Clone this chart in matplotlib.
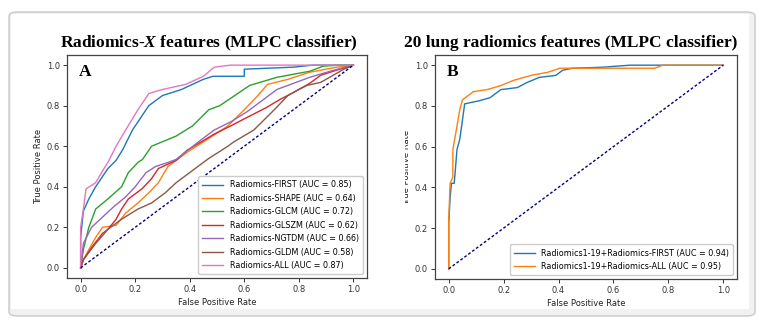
import matplotlib
matplotlib.use("Agg")
import matplotlib.pyplot as plt
from matplotlib.patches import FancyBboxPatch, Rectangle

plt.rcParams['mathtext.fontset'] = 'custom'
plt.rcParams['mathtext.rm'] = 'Liberation Serif:bold'
plt.rcParams['mathtext.it'] = 'Liberation Serif:italic:bold'

# panel A: Radiomics-X features
labels_a = ['Radiomics-FIRST (AUC = 0.85)', 'Radiomics-SHAPE (AUC = 0.64)',
            'Radiomics-GLCM (AUC = 0.72)', 'Radiomics-GLSZM (AUC = 0.62)',
            'Radiomics-NGTDM (AUC = 0.66)', 'Radiomics-GLDM (AUC = 0.58)',
            'Radiomics-ALL (AUC = 0.87)']

fpr_first = [0, 0, 0.01, 0.03, 0.055, 0.10, 0.13, 0.155, 0.19, 0.225, 0.25, 0.30, 0.37, 0.45, 0.485, 0.51, 0.60, 0.60, 0.78, 0.85, 1.0]
tpr_first = [0, 0.15, 0.28, 0.34, 0.40, 0.49, 0.53, 0.585, 0.68, 0.75, 0.80, 0.85, 0.88, 0.93, 0.945, 0.945, 0.945, 0.98, 0.99, 1.0, 1.0]

fpr_shape = [0, 0.01, 0.03, 0.055, 0.08, 0.13, 0.165, 0.21, 0.25, 0.285, 0.32, 0.39, 0.46, 0.54, 0.60, 0.65, 0.685, 0.76, 0.84, 0.94, 1.0]
tpr_shape = [0, 0.04, 0.09, 0.15, 0.20, 0.21, 0.27, 0.32, 0.37, 0.42, 0.50, 0.57, 0.63, 0.70, 0.78, 0.85, 0.905, 0.93, 0.965, 0.99, 1.0]

fpr_glcm = [0, 0.01, 0.03, 0.055, 0.10, 0.15, 0.175, 0.21, 0.227, 0.26, 0.35, 0.41, 0.47, 0.51, 0.62, 0.72, 0.84, 0.89, 0.95, 1.0]
tpr_glcm = [0, 0.09, 0.20, 0.29, 0.34, 0.40, 0.47, 0.52, 0.535, 0.60, 0.65, 0.70, 0.78, 0.80, 0.90, 0.94, 0.97, 0.995, 1.0, 1.0]

fpr_glszm = [0, 0.01, 0.04, 0.08, 0.10, 0.13, 0.15, 0.175, 0.225, 0.26, 0.285, 0.35, 0.39, 0.44, 0.49, 0.55, 0.60, 0.68, 0.73, 0.78, 0.84, 0.88, 0.95, 1.0]
tpr_glszm = [0, 0.04, 0.10, 0.17, 0.19, 0.24, 0.29, 0.34, 0.39, 0.44, 0.49, 0.53, 0.58, 0.62, 0.66, 0.70, 0.735, 0.79, 0.83, 0.865, 0.91, 0.95, 0.98, 1.0]

fpr_ngtdm = [0, 0.01, 0.04, 0.08, 0.12, 0.165, 0.20, 0.24, 0.275, 0.32, 0.35, 0.44, 0.49, 0.55, 0.61, 0.67, 0.72, 0.84, 0.915, 0.97, 1.0]
tpr_ngtdm = [0, 0.12, 0.20, 0.25, 0.30, 0.35, 0.40, 0.47, 0.50, 0.52, 0.535, 0.63, 0.68, 0.72, 0.77, 0.83, 0.88, 0.94, 0.97, 0.99, 1.0]

fpr_gldm = [0, 0.01, 0.055, 0.10, 0.15, 0.21, 0.26, 0.31, 0.35, 0.40, 0.43, 0.47, 0.54, 0.56, 0.635, 0.68, 0.71, 0.76, 0.80, 0.83, 0.88, 0.90, 0.965, 1.0]
tpr_gldm = [0, 0.04, 0.12, 0.19, 0.24, 0.29, 0.32, 0.37, 0.42, 0.47, 0.50, 0.54, 0.60, 0.62, 0.68, 0.74, 0.78, 0.85, 0.88, 0.90, 0.915, 0.93, 0.98, 1.0]

fpr_all = [0, 0, 0.01, 0.02, 0.055, 0.09, 0.10, 0.13, 0.165, 0.21, 0.25, 0.30, 0.385, 0.45, 0.49, 0.55, 1.0]
tpr_all = [0, 0.20, 0.29, 0.39, 0.42, 0.50, 0.52, 0.60, 0.68, 0.78, 0.86, 0.88, 0.905, 0.945, 0.99, 1.0, 1.0]

# panel B: 20 lung radiomics features
labels_b = ['Radiomics1-19+Radiomics-FIRST (AUC = 0.94)',
            'Radiomics1-19+Radiomics-ALL (AUC = 0.95)']

fpr_b_first = [0, 0, 0.005, 0.01, 0.02, 0.025, 0.03, 0.04, 0.047, 0.058, 0.11, 0.15, 0.19, 0.25, 0.285, 0.33, 0.39, 0.415, 0.45, 0.56, 0.66, 1.0]
tpr_b_first = [0, 0.22, 0.35, 0.42, 0.42, 0.50, 0.585, 0.635, 0.70, 0.81, 0.825, 0.84, 0.88, 0.89, 0.915, 0.94, 0.95, 0.975, 0.985, 0.99, 1.0, 1.0]

fpr_b_all = [0, 0, 0.003, 0.005, 0.015, 0.015, 0.03, 0.04, 0.05, 0.09, 0.14, 0.19, 0.235, 0.30, 0.36, 0.405, 0.75, 0.78, 1.0]
tpr_b_all = [0, 0.24, 0.35, 0.42, 0.45, 0.585, 0.70, 0.78, 0.83, 0.87, 0.88, 0.90, 0.925, 0.95, 0.965, 0.985, 0.985, 1.0, 1.0]

W, H = 773, 332
fig = plt.figure(figsize=(W / 100, H / 100), dpi=100)


def fx(px):
    return px / W


def fy(py):
    return 1 - py / H


# frame around the whole picture (drawn under the axes)
fig.patches.append(FancyBboxPatch((fx(9), fy(316)), 746 / W, 304 / H,
                                  boxstyle="round,pad=0,rounding_size=0.012",
                                  transform=fig.transFigure, facecolor='#f1f1f1',
                                  edgecolor='#c8c8c8', lw=1.0, zorder=-3))
fig.patches.append(Rectangle((fx(11), fy(309)), 738 / W, 295 / H,
                             transform=fig.transFigure, facecolor='white',
                             edgecolor='none', zorder=-2))

ax_a = fig.add_axes([fx(67), fy(278), (367 - 67) / W, (278 - 55) / H])
ax_b = fig.add_axes([fx(435), fy(279), (737 - 435) / W, (279 - 55) / H])

curves_a = [(fpr_first, tpr_first), (fpr_shape, tpr_shape), (fpr_glcm, tpr_glcm),
            (fpr_glszm, tpr_glszm), (fpr_ngtdm, tpr_ngtdm), (fpr_gldm, tpr_gldm),
            (fpr_all, tpr_all)]
for (f, t), lab in zip(curves_a, labels_a):
    ax_a.plot(f, t, lw=1.0, label=lab)

for (f, t), lab in zip([(fpr_b_first, tpr_b_first), (fpr_b_all, tpr_b_all)], labels_b):
    ax_b.plot(f, t, lw=1.0, label=lab)

for ax, letter in [(ax_a, 'A'), (ax_b, 'B')]:
    ax.plot([0, 1], [0, 1], color='navy', lw=1.0, linestyle=(0, (2, 1.5)))
    ax.set_xlim(-0.05, 1.05)
    ax.set_ylim(-0.05, 1.05)
    ax.set_xticks([0, 0.2, 0.4, 0.6, 0.8, 1.0])
    ax.set_yticks([0, 0.2, 0.4, 0.6, 0.8, 1.0])
    ax.tick_params(labelsize=6, length=3, width=0.7, colors='#333333', pad=2)
    for s in ax.spines.values():
        s.set_color('#444444')
        s.set_linewidth(0.9)
    ax.set_xlabel('False Positive Rate', fontsize=6, color='#222222', labelpad=3)
    ax.set_ylabel('True Positive Rate', fontsize=6, color='#222222', labelpad=3)
    ax.text(0.04, 0.96, letter, transform=ax.transAxes, fontsize=12.5,
            fontweight='bold', family='Liberation Serif', va='top', ha='left')
    ax.legend(loc='lower right', fontsize=5.8, frameon=True, fancybox=True,
              handlelength=2.6, borderpad=0.5, labelspacing=0.55,
              edgecolor='#cccccc', framealpha=1.0)

# hide the clipped left part of panel B's y label
fig.patches.append(Rectangle((fx(390), fy(250)), 15 / W, 150 / H,
                             transform=fig.transFigure, facecolor='white',
                             edgecolor='none', zorder=5))

fig.text(fx(209), fy(43), r'Radiomics-$X$ features (MLPC classifier)',
         ha='center', va='center', fontsize=12.5, fontweight='bold',
         family='Liberation Serif')
fig.text(fx(571), fy(43), '20 lung radiomics features (MLPC classifier)',
         ha='center', va='center', fontsize=12.5, fontweight='bold',
         family='Liberation Serif')

fig.savefig('out.png', dpi=100)
